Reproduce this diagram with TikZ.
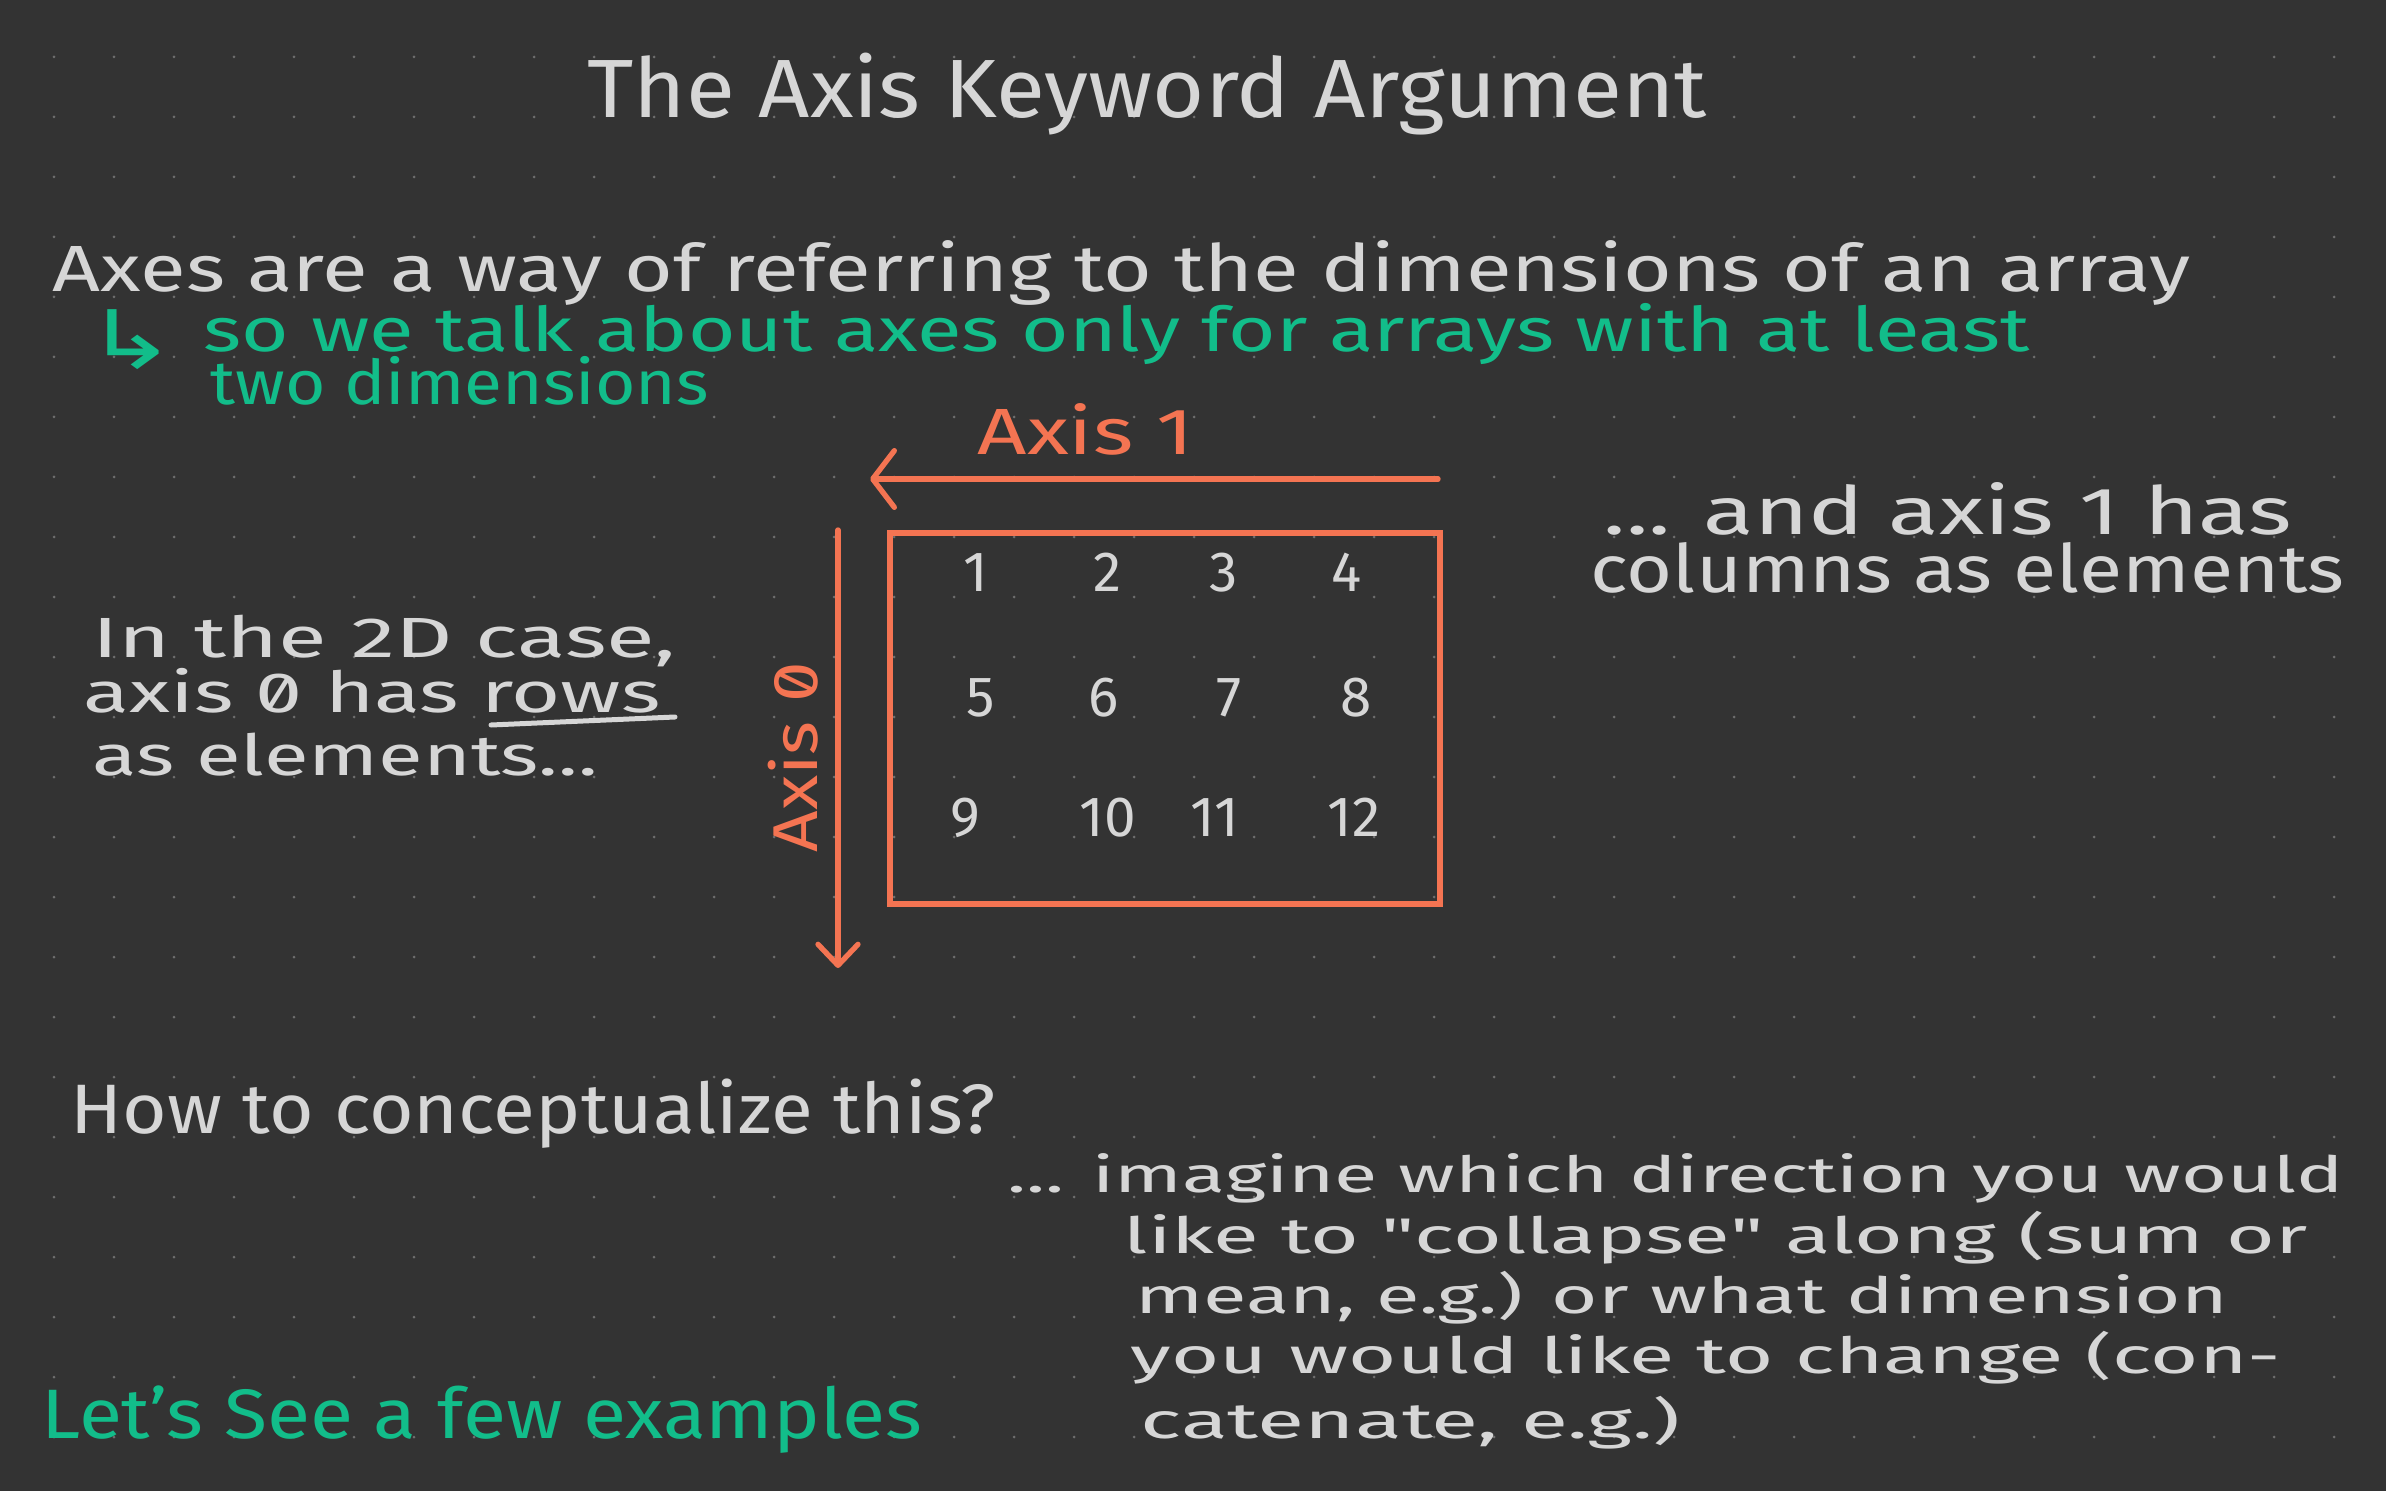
\documentclass[tikz,border=0pt]{standalone}
\usepackage{fontspec}
\usepackage{graphicx}
\setmainfont{Fira Sans}
\newfontfamily\symfont{DejaVu Sans}
\newfontfamily\zerofont[RawFeature=+zero]{Fira Sans}
\newfontfamily\qfont[Ligatures=TeXOff]{Fira Sans}
\usetikzlibrary{arrows.meta}
\definecolor{bgc}{HTML}{333333}
\definecolor{dotc}{HTML}{6E6E6E}
\definecolor{txtc}{HTML}{D6D6D6}
\definecolor{grn}{HTML}{12BD8A}
\definecolor{org}{HTML}{F47452}
\newcommand\fitto[2]{\resizebox{#1}{\height}{#2}}
\newcommand\fsz[1]{\fontsize{#1}{#1}\selectfont}
\begin{document}
\begin{tikzpicture}[x=0.3pt,y=-0.3pt,
  txt/.style={text=txtc, inner sep=0pt, anchor=base west},
  gtxt/.style={text=grn, inner sep=0pt, anchor=base west},
  otxt/.style={text=org, inner sep=0pt},
  num/.style={text=txtc, inner sep=0pt, anchor=base, font=\fsz{17pt}},
  oline/.style={draw=org, line width=1.6pt, line cap=round, line join=round},
  wline/.style={draw=txtc, line width=1.5pt, line cap=round}]
\fill[bgc] (0,0) rectangle (2386,1491);
\useasboundingbox (0,0) rectangle (2386,1491);
% dot grid
\foreach \i in {0,...,38}{
  \foreach \j in {0,...,23}{
    \fill[dotc] ({54+60*\i},{57+60*\j}) circle[radius=0.45pt];
  }
}
% title
\node[txt] (title) at (587,118) {\fsz{24.8pt}\fitto{335.7pt}{The Axis Keyword Argument}};
% intro lines
\node[txt] (l1) at (52,292) {\fsz{19.6pt}\fitto{641.4pt}{Axes are a way of referring to the dimensions of an array}};
\node[text=grn, inner sep=0pt, anchor=south west] (hook) at (84,370) {\resizebox*{28pt}{18pt}{\symfont ↳}};
\node[gtxt] (l2) at (203,352) {\fsz{18.5pt}\fitto{547.8pt}{so we talk about axes only for arrays with at least}};
\node[gtxt] (l3) at (210,405) {\fsz{18.5pt}\fitto{149.4pt}{two dimensions}};
% axis 1
\node[otxt, anchor=base west] (ax1) at (977,455) {\fsz{19.6pt}\fitto{64.8pt}{Axis 1}};
\coordinate (a1s) at (1438,479);
\coordinate (a1e) at (870,479);
\draw[oline, -{Straight Barb[length=6.5pt,width=17pt,round]}] (a1s) -- (a1e);
% axis 0
\node[otxt, anchor=base, rotate=90] (ax0) at (817,757) {\fsz{19pt}\fitto{57.3pt}{Axis {\zerofont 0}}};
\coordinate (a0s) at (838,530);
\coordinate (a0e) at (838,968);
\draw[oline, -{Straight Barb[length=6.3pt,width=12pt,round]}] (a0s) -- (a0e);
% array box
\node[draw=org, line width=1.8pt, minimum width=165pt, minimum height=111.3pt, inner sep=0pt] (box) at (1165,718.5) {};
% numbers
\node[num] (n1) at (976,591) {1};
\node[num] (n2) at (1108,591) {2};
\node[num] (n3) at (1224,591) {3};
\node[num] (n4) at (1347,591) {4};
\node[num] (n5) at (981,716) {5};
\node[num] (n6) at (1104,716) {6};
\node[num] (n7) at (1229,716) {7};
\node[num] (n8) at (1356,716) {8};
\node[num] (n9) at (965,836) {9};
\node[num] (n10) at (1108,836) {10};
\node[num] (n11) at (1215,836) {11};
\node[num] (n12) at (1354,836) {12};
% left block
\node[txt] (lb1) at (92,657) {\fsz{17pt}\fitto{174.9pt}{In the 2D case,}};
\node[txt] (lb2) at (83,712) {\fsz{17pt}\fitto{173.1pt}{axis {\zerofont 0} has rows}};
\node[txt] (lb3) at (92,775) {\fsz{17pt}\fitto{151.5pt}{as elements...}};
\coordinate (u1) at (491,725);
\coordinate (u2) at (675,717);
\draw[wline] (u1) -- (u2);
% right block
\node[txt] (rb1) at (1603,535) {\fsz{20pt}\fitto{206.4pt}{... and axis 1 has}};
\node[txt] (rb2) at (1590,593) {\fsz{20pt}\fitto{226.2pt}{columns as elements}};
% question
\node[txt] (q) at (70,1133) {\fsz{21pt}\fitto{277.5pt}{How to conceptualize this?}};
% bottom right
\node[txt] (br1) at (1007,1192) {\fsz{15pt}\fitto{400.8pt}{... imagine which direction you would}};
\node[txt] (br2) at (1123,1253) {\fsz{15pt}\fitto{355.2pt}{like to {\qfont"}collapse{\qfont"} along (sum or}};
\node[txt] (br3) at (1135,1313) {\fsz{15pt}\fitto{327.6pt}{mean, e.g.) or what dimension}};
\node[txt] (br4) at (1130,1373) {\fsz{15pt}\fitto{345pt}{you would like to change (con-}};
\node[txt] (br5) at (1140,1438) {\fsz{15pt}\fitto{162pt}{catenate, e.g.)}};
% closing
\node[gtxt] (ex) at (41,1438) {\fsz{21pt}\fitto{264.3pt}{Let's See a few examples}};
\end{tikzpicture}
\end{document}
